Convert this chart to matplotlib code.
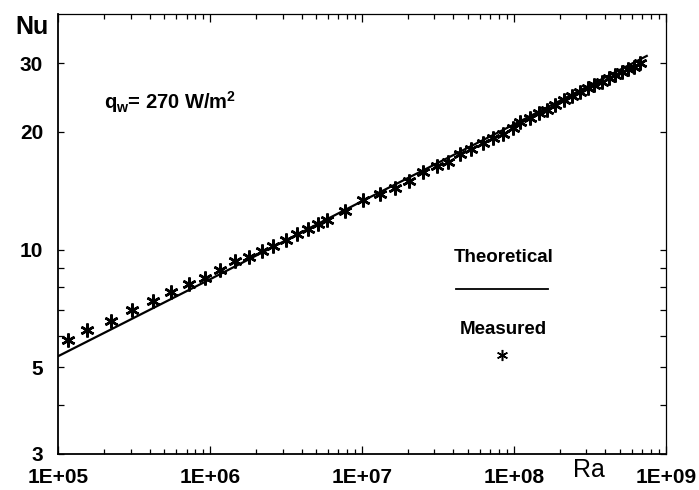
import matplotlib
matplotlib.use("Agg")
import matplotlib.pyplot as plt
from matplotlib.ticker import FixedLocator, NullFormatter

plt.rcParams['font.family'] = ['Liberation Sans', 'DejaVu Sans']
plt.rcParams['mathtext.fontset'] = 'custom'
plt.rcParams['mathtext.rm'] = 'Liberation Sans:bold'
plt.rcParams['mathtext.it'] = 'Liberation Sans:bold'
plt.rcParams['mathtext.bf'] = 'Liberation Sans:bold'

# Theoretical correlation (solid line)
ra_theory = [1e5, 1e6, 1e7, 1e8, 7.5e8]
nu_theory = [5.34, 8.40, 13.3, 20.9, 31.3]

# Measured Nusselt numbers
ra_meas = [1.15e5, 1.54e5, 2.21e5, 3.07e5, 4.19e5, 5.50e5, 7.26e5, 9.30e5,
           1.16e6, 1.46e6, 1.80e6, 2.19e6, 2.61e6, 3.16e6, 3.75e6, 4.39e6,
           5.11e6, 5.91e6, 7.73e6, 1.02e7, 1.31e7, 1.65e7, 2.05e7, 2.53e7,
           3.10e7, 3.70e7, 4.42e7, 5.22e7, 6.24e7, 7.32e7, 8.52e7, 9.83e7,
           1.10e8, 1.28e8, 1.47e8, 1.65e8, 1.87e8, 2.15e8, 2.40e8, 2.73e8,
           3.06e8, 3.39e8, 3.79e8, 4.23e8, 4.64e8, 5.13e8, 5.62e8, 6.18e8,
           6.77e8]
nu_meas = [5.86, 6.22, 6.57, 6.99, 7.39, 7.79, 8.15, 8.45,
           8.85, 9.35, 9.60, 9.89, 10.23, 10.60, 10.98, 11.31,
           11.64, 11.94, 12.54, 13.36, 13.89, 14.39, 15.02, 15.77,
           16.34, 16.72, 17.57, 18.10, 18.75, 19.26, 19.76, 20.43,
           21.16, 21.71, 22.31, 22.80, 23.47, 24.13, 24.65, 25.34,
           25.90, 26.36, 26.92, 27.47, 27.96, 28.51, 28.96, 29.41,
           30.10]

x_ticks = [1e5, 1e6, 1e7, 1e8, 1e9]
x_labels = ['1E+05', '1E+06', '1E+07', '1E+08', '1E+09']
y_ticks = [3, 5, 10, 20, 30]
y_labels = ['3', '5', '10', '20', '30']
y_minor = [4, 6, 7, 8, 9]

fig = plt.figure(figsize=(6.99, 4.90), dpi=100)
ax = fig.add_axes([0.0834, 0.0735, 0.8690, 0.8973])

star = (6, 2, 0)
ax.plot(ra_theory, nu_theory, color='black', lw=1.6, zorder=2)
ax.plot(ra_meas, nu_meas, linestyle='none', marker=star, markersize=10,
        markeredgewidth=1.8, color='black', zorder=3)

ax.set_xscale('log')
ax.set_yscale('log')
ax.set_xlim(1e5, 1e9)
ax.set_ylim(3, 40)

ax.xaxis.set_major_locator(FixedLocator(x_ticks))
ax.set_xticklabels(x_labels)
minor_x = [m * 10 ** e for e in range(5, 9) for m in range(2, 10)]
ax.xaxis.set_minor_locator(FixedLocator(minor_x))
ax.xaxis.set_minor_formatter(NullFormatter())

ax.yaxis.set_major_locator(FixedLocator(y_ticks))
ax.set_yticklabels(y_labels)
ax.yaxis.set_minor_locator(FixedLocator(y_minor))
ax.yaxis.set_minor_formatter(NullFormatter())

ax.tick_params(axis='both', which='both', direction='in', top=True, right=True,
               width=0.9, colors='black')
ax.tick_params(axis='x', which='major', length=6, pad=10)
ax.tick_params(axis='x', which='minor', length=3.5)
ax.tick_params(axis='y', which='major', length=4, pad=11)
ax.tick_params(axis='y', which='minor', length=4)
for lab in ax.get_xticklabels() + ax.get_yticklabels():
    lab.set_fontsize(15)
    lab.set_fontweight('bold')

for side in ['left', 'bottom']:
    ax.spines[side].set_linewidth(1.3)
for side in ['top', 'right']:
    ax.spines[side].set_linewidth(0.9)

# Axis names
fig.text(0.0458, 0.945, 'Nu', fontsize=18, fontweight='bold',
         ha='center', va='center')
fig.text(0.843, 0.041, 'Ra', fontsize=18, ha='center', va='center')

# Wall heat flux annotation
ax.text(0.0752, 0.786, r'$q_w$= 270 W/m$^2$', transform=ax.transAxes,
        fontsize=14.5, fontweight='bold', ha='left', va='baseline')

# Legend drawn by hand
ax.text(0.7326, 0.4458, 'Theoretical', transform=ax.transAxes, fontsize=13.5,
        fontweight='bold', ha='center', va='center')
ax.plot([0.6548, 0.8067], [0.3746, 0.3746], transform=ax.transAxes,
        color='black', lw=1.3)
ax.text(0.7326, 0.282, 'Measured', transform=ax.transAxes, fontsize=13.5,
        fontweight='bold', ha='center', va='center')
ax.plot([0.7305], [0.2252], transform=ax.transAxes, linestyle='none',
        marker=star, markersize=8, markeredgewidth=1.1, color='black')

fig.savefig('out.png', dpi=100)
